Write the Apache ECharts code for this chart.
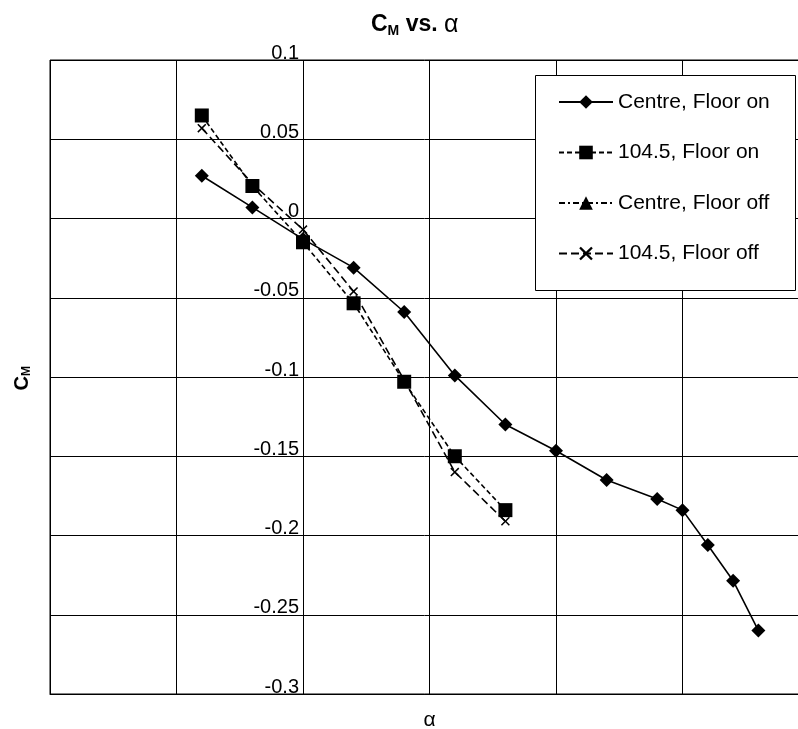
<!DOCTYPE html>
<html>
<head>
<meta charset="utf-8">
<script src="https://cdn.jsdelivr.net/npm/echarts@6/dist/echarts.min.js"></script>
<style>
  html, body { margin: 0; padding: 0; background: #fff; }
  #chart { width: 798px; height: 729px; }
</style>
</head>
<body>
<div id="chart"></div>
<script>
// Angle of attack (deg) and pitching-moment coefficient for each configuration
const alphaCentreOn = [-4, -2, 0, 2, 4, 6, 8, 10, 12, 14, 15, 16, 17, 18];
const cmCentreOn = [0.027, 0.007, -0.013, -0.031, -0.059, -0.099, -0.130, -0.1465, -0.165, -0.177, -0.184, -0.206, -0.2285, -0.26];

const alpha1045On = [-4, -2, 0, 2, 4, 6, 8];
const cm1045On = [0.065, 0.0205, -0.015, -0.0535, -0.103, -0.150, -0.184];

const alphaCentreOff = [];
const cmCentreOff = [];

const alpha1045Off = [-4, -2, 0, 2, 4, 6, 8];
const cm1045Off = [0.057, 0.022, -0.007, -0.046, -0.102, -0.160, -0.191];

const seriesNames = ['Centre, Floor on', '104.5, Floor on', 'Centre, Floor off', '104.5, Floor off'];

const yTicks = { min: -0.3, max: 0.1, step: 0.05 };
const xTicks = { min: -10, max: 20, step: 5 };

function pairs(xs, ys) { return xs.map((x, i) => [x, ys[i]]); }

const FONT = 'Liberation Sans, Arial, sans-serif';
const GRID_LEFT = 50;
const crossPath = 'path://M0,1.2L1.2,0L5,3.8L8.8,0L10,1.2L6.2,5L10,8.8L8.8,10L5,6.2L1.2,10L0,8.8L3.8,5Z';

const chart = echarts.init(document.getElementById('chart'), null, { renderer: 'canvas' });

chart.setOption({
  animation: false,
  backgroundColor: '#fff',
  textStyle: { fontFamily: FONT, color: '#000' },
  title: {
    text: '{b|C}{s|M}{b| vs. }{a|α}',
    left: 366,
    top: 6,
    textStyle: {
      rich: {
        b: { fontFamily: FONT, fontWeight: 'bold', fontSize: 23, color: '#000', lineHeight: 28 },
        s: { fontFamily: FONT, fontWeight: 'bold', fontSize: 14, color: '#000', lineHeight: 28, padding: [12, 0, 0, 0] },
        a: { fontFamily: FONT, fontWeight: 'normal', fontSize: 25, color: '#000', lineHeight: 28 }
      }
    }
  },
  graphic: [
    {
      type: 'text',
      left: 11,
      top: 366,
      rotation: Math.PI / 2,
      style: {
        text: '{b|C}{s|M}',
        rich: {
          b: { fontFamily: FONT, fontWeight: 'bold', fontSize: 20, fill: '#000', lineHeight: 24 },
          s: { fontFamily: FONT, fontWeight: 'bold', fontSize: 12, fill: '#000', lineHeight: 24, padding: [10, 0, 0, 0] }
        }
      }
    },
    {
      type: 'rect',
      z: 3,
      shape: { x: 535.5, y: 75.5, width: 260, height: 215 },
      style: { fill: '#fff', stroke: '#000', lineWidth: 1 }
    }
  ],
  legend: {
    orient: 'vertical',
    left: 558,
    top: 91,
    z: 5,
    padding: 0,
    itemWidth: 54,
    itemHeight: 17,
    itemGap: 28.5,
    data: seriesNames,
    textStyle: { fontFamily: FONT, fontSize: 21, color: '#000', lineHeight: 22 }
  },
  grid: {
    left: GRID_LEFT,
    top: 60,
    right: -11,
    bottom: 35,
    outerBoundsMode: 'none',
    containLabel: false,
    show: true,
    borderColor: '#000',
    borderWidth: 1,
    backgroundColor: '#fff'
  },
  xAxis: {
    type: 'value',
    min: xTicks.min,
    max: xTicks.max,
    interval: xTicks.step,
    name: 'α',
    nameLocation: 'middle',
    nameGap: 15,
    nameTextStyle: { fontFamily: FONT, fontSize: 21, color: '#000', lineHeight: 22 },
    axisLine: { onZero: false, lineStyle: { color: '#000', width: 1 } },
    axisTick: { show: false },
    axisLabel: { show: false },
    splitLine: { show: true, lineStyle: { color: '#000', width: 1 } }
  },
  yAxis: {
    type: 'value',
    position: 'left',
    min: yTicks.min,
    max: yTicks.max,
    interval: yTicks.step,
    axisLine: { show: false, onZero: false },
    axisTick: { show: false },
    axisLabel: {
      margin: 4,
      fontFamily: FONT,
      fontSize: 20,
      color: '#000',
      verticalAlign: 'bottom',
      lineHeight: 14,
      formatter: v => String(Math.round(v * 100) / 100)
    },
    splitLine: { show: true, lineStyle: { color: '#000', width: 1 } }
  },
  series: [
    {
      name: seriesNames[0],
      type: 'line',
      data: pairs(alphaCentreOn, cmCentreOn),
      symbol: 'diamond',
      symbolSize: 14,
      lineStyle: { color: '#000', width: 1.6, type: 'solid' },
      itemStyle: { color: '#000' },
      z: 4
    },
    {
      name: seriesNames[1],
      type: 'line',
      data: pairs(alpha1045On, cm1045On),
      symbol: 'rect',
      symbolSize: 14,
      lineStyle: { color: '#000', width: 1.6, type: [5, 3] },
      itemStyle: { color: '#000' },
      z: 3
    },
    {
      name: seriesNames[2],
      type: 'line',
      data: pairs(alphaCentreOff, cmCentreOff),
      symbol: 'triangle',
      symbolSize: 7,
      lineStyle: { color: '#000', width: 1.4, type: [6, 3, 2, 3] },
      itemStyle: { color: '#000' },
      z: 3
    },
    {
      name: seriesNames[3],
      type: 'line',
      data: pairs(alpha1045Off, cm1045Off),
      symbol: crossPath,
      symbolSize: 9,
      lineStyle: { color: '#000', width: 1.6, type: [8, 4] },
      itemStyle: { color: '#000' },
      z: 3
    }
  ]
});

// Place the value-axis labels where alpha = 0, as the axis crosses the plot there
const zeroX = chart.convertToPixel({ xAxisIndex: 0 }, 0);
chart.setOption({ yAxis: { offset: -(zeroX - GRID_LEFT) } });
</script>
</body>
</html>
